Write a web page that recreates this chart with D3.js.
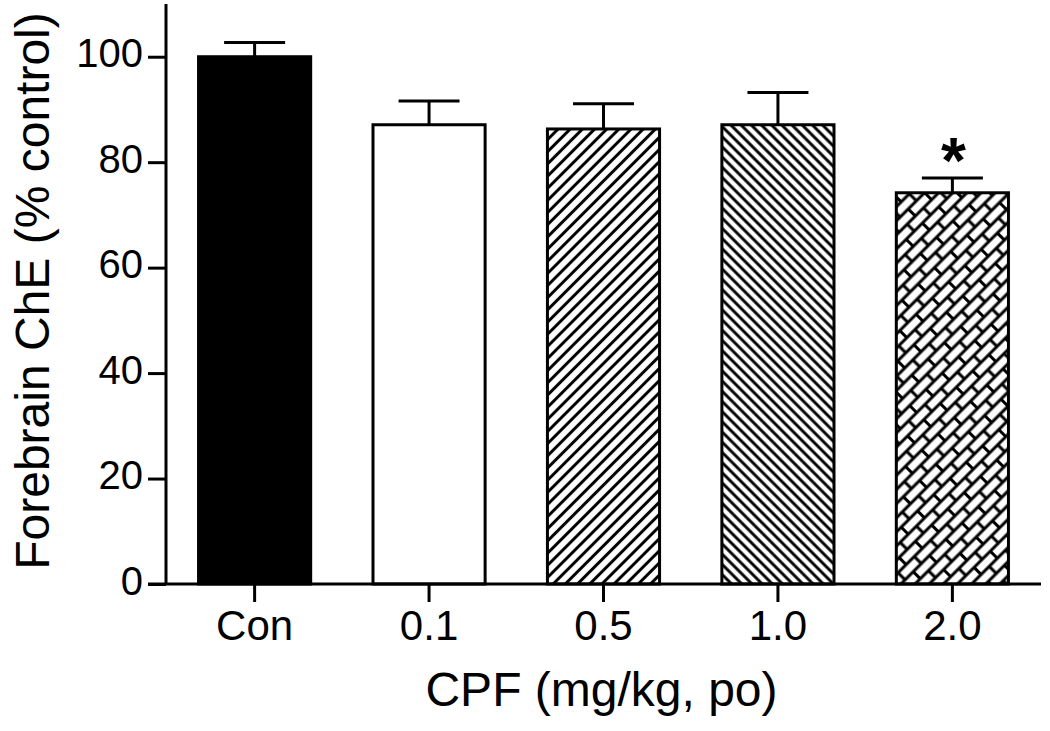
<!DOCTYPE html>
<html>
<head>
<meta charset="utf-8">
<script src="https://cdn.jsdelivr.net/npm/d3@7"></script>
<style>
  html, body { margin: 0; padding: 0; background: #fff; }
  svg { display: block; font-family: "Liberation Sans", Arial, sans-serif; }
</style>
</head>
<body>
<svg id="chart" width="1050" height="731"></svg>
<script>
const categories = ["Con", "0.1", "0.5", "1.0", "2.0"];
const means = [100, 87.1, 86.3, 87.1, 74.2];
const sems = [2.7, 4.5, 4.8, 6.1, 2.8];
const significance = ["", "", "", "", "*"];
const yTicks = [0, 20, 40, 60, 80, 100];
const fills = ["solid", "white", "diagUp", "diagDown", "brick"];
const yTitle = "Forebrain ChE (% control)";
const xTitle = "CPF (mg/kg, po)";

const svg = d3.select("#chart");
const x0 = 166, x1 = 1041, yBottom = 584, yTop = 4;

const x = d3.scaleBand().domain(categories).range([x0, x1])
  .paddingInner(0.34).paddingOuter(0.178);
const y = d3.scaleLinear().domain([0, 110]).range([yBottom, yTop]);

// patterns
const defs = svg.append("defs");
function linePattern(id, spacing, angle, sw) {
  const p = defs.append("pattern").attr("id", id)
    .attr("patternUnits", "userSpaceOnUse")
    .attr("width", 20).attr("height", spacing)
    .attr("patternTransform", `rotate(${angle})`);
  p.append("rect").attr("width", 20).attr("height", spacing).attr("fill", "#fff");
  p.append("line").attr("x1", 0).attr("x2", 20).attr("y1", spacing / 2).attr("y2", spacing / 2)
    .attr("stroke", "#000").attr("stroke-width", sw);
}
linePattern("diagUp", 8.6, -45, 3);
linePattern("diagDown", 7.2, 45, 2.9);
(function () {
  const h = 10, w = 23;
  const p = defs.append("pattern").attr("id", "brick")
    .attr("patternUnits", "userSpaceOnUse")
    .attr("width", w).attr("height", 2 * h)
    .attr("patternTransform", "rotate(-45)");
  p.append("rect").attr("width", w).attr("height", 2 * h).attr("fill", "#fff");
  const path = `M0,0H${w} M0,${h}H${w} M0,${2 * h}H${w} M0,0V${h} M${w},0V${h} M${w / 2},${h}V${2 * h}`;
  p.append("path").attr("d", path).attr("stroke", "#000").attr("stroke-width", 3).attr("fill", "none");
})();

function fillFor(f) {
  if (f === "solid") return "#000";
  if (f === "white") return "#fff";
  return `url(#${f})`;
}

const data = categories.map((c, i) => ({ c, m: means[i], e: sems[i], s: significance[i], f: fills[i] }));

// bars
svg.append("g").selectAll("rect").data(data).join("rect")
  .attr("x", d => x(d.c) + 1.5)
  .attr("y", d => y(d.m))
  .attr("width", x.bandwidth() - 3)
  .attr("height", d => y(0) - y(d.m))
  .attr("fill", d => fillFor(d.f))
  .attr("stroke", "#000").attr("stroke-width", 3);

// error bars
const eb = svg.append("g").attr("stroke", "#000").attr("stroke-width", 3);
eb.selectAll("line.stem").data(data).join("line").attr("class", "stem")
  .attr("x1", d => x(d.c) + x.bandwidth() / 2).attr("x2", d => x(d.c) + x.bandwidth() / 2)
  .attr("y1", d => y(d.m)).attr("y2", d => y(d.m + d.e));
eb.selectAll("line.cap").data(data).join("line").attr("class", "cap")
  .attr("x1", d => x(d.c) + x.bandwidth() / 2 - 30.5).attr("x2", d => x(d.c) + x.bandwidth() / 2 + 30.5)
  .attr("y1", d => y(d.m + d.e)).attr("y2", d => y(d.m + d.e));

// significance
svg.append("g").selectAll("text").data(data.filter(d => d.s)).join("text")
  .attr("x", d => x(d.c) + x.bandwidth() / 2 + 1)
  .attr("y", d => y(d.m + d.e) + 5)
  .attr("text-anchor", "middle")
  .attr("font-size", 64).attr("font-weight", "bold")
  .text(d => d.s);

// y axis
const yAxis = svg.append("g").attr("transform", `translate(${x0},0)`)
  .call(d3.axisLeft(y).tickValues(yTicks).tickSize(18).tickPadding(5).tickFormat(d3.format("d")));
yAxis.select(".domain").attr("d", `M0,${yTop}V${yBottom}`).attr("stroke-width", 3);
yAxis.selectAll(".tick line").attr("stroke-width", 3);
yAxis.selectAll(".tick text").attr("font-size", 40).attr("fill", "#000")
  .attr("font-family", "'Liberation Sans', Arial, sans-serif").attr("dy", "0.25em");

// x axis
const xAxis = svg.append("g").attr("transform", `translate(0,${yBottom})`)
  .call(d3.axisBottom(x).tickSize(18).tickPadding(8));
xAxis.select(".domain").attr("d", `M${x0 - 18},0H${x1}`).attr("stroke-width", 3);
xAxis.selectAll(".tick line").attr("stroke-width", 3);
xAxis.selectAll(".tick text").attr("font-size", 42).attr("fill", "#000")
  .attr("font-family", "'Liberation Sans', Arial, sans-serif");

// titles
svg.append("text").attr("x", (x0 + x1) / 2 - 2).attr("y", 706)
  .attr("text-anchor", "middle").attr("font-size", 48).text(xTitle);
svg.append("text").attr("transform", `translate(49,${(yTop + yBottom) / 2 - 3}) rotate(-90)`)
  .attr("text-anchor", "middle").attr("font-size", 48).text(yTitle);
</script>
</body>
</html>
